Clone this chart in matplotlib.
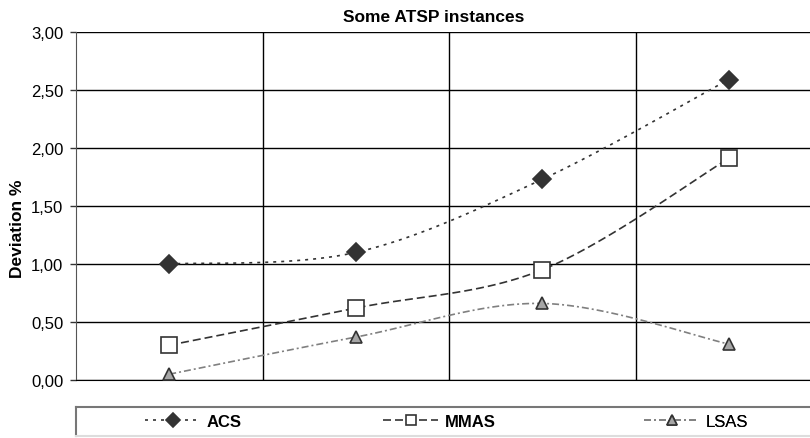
import numpy as np
import matplotlib.pyplot as plt
from matplotlib.lines import Line2D
from matplotlib.ticker import FuncFormatter, MultipleLocator

plt.rcParams['font.family'] = ['Liberation Sans', 'DejaVu Sans']

# data
positions = [0.5, 1.5, 2.5, 3.5]
acs = [1.00, 1.10, 1.73, 2.59]
mmas = [0.30, 0.62, 0.95, 1.91]
lsas = [0.05, 0.37, 0.66, 0.31]
series_names = ['ACS', 'MMAS', 'LSAS']


def smooth(xs, ys, n=40):
    # Excel-like smoothed line: Bezier segments with Catmull-Rom control points
    p = np.column_stack([xs, ys]).astype(float)
    ext = np.vstack([p[0], p, p[-1]])
    t = np.linspace(0, 1, n)[:, None]
    out = []
    for i in range(len(p) - 1):
        p0, p3 = ext[i + 1], ext[i + 2]
        c1 = p0 + (ext[i + 2] - ext[i]) / 6
        c2 = p3 - (ext[i + 3] - ext[i + 1]) / 6
        seg = ((1 - t) ** 3) * p0 + 3 * ((1 - t) ** 2) * t * c1 + 3 * (1 - t) * t ** 2 * c2 + t ** 3 * p3
        out.append(seg if i == 0 else seg[1:])
    out = np.vstack(out)
    return out[:, 0], out[:, 1]


W, H = 810, 439
fig = plt.figure(figsize=(W / 100, H / 100), dpi=100)
ax = fig.add_axes([76 / W, (H - 381) / H, (W - 76) / W, 348 / H])

styles = [
    dict(color='#333333', dashes=(1.8, 3.0), marker='D', ms=9, lms=7, mfc='#333333', mec='#333333'),
    dict(color='#333333', dashes=(4.8, 2.4), marker='s', ms=11, lms=7, mfc='white', mec='#333333'),
    dict(color='#808080', dashes=(4.2, 1.8, 1.2, 1.8), marker='^', ms=9, lms=7, mfc='#a6a6a6', mec='#333333'),
]

handles = []
for ys, st, name in zip([acs, mmas, lsas], styles, series_names):
    sx, sy = smooth(positions, ys)
    ax.plot(sx, sy, color=st['color'], lw=1.2, dashes=st['dashes'], zorder=3, clip_on=False)
    ax.plot(positions, ys, ls='none', marker=st['marker'], ms=st['ms'], mfc=st['mfc'],
            mec=st['mec'], mew=1.2, zorder=4, clip_on=False)
    handles.append(Line2D([], [], color=st['color'], lw=1.2, dashes=st['dashes'],
                          marker=st['marker'], ms=st['lms'], mfc=st['mfc'], mec=st['mec'],
                          mew=1.2, label=name))

ax.set_xlim(0, (W - 76) / 186.5)
ax.set_ylim(0, 3)
ax.yaxis.set_major_locator(MultipleLocator(0.5))
ax.yaxis.set_major_formatter(FuncFormatter(lambda v, p: f'{v:.2f}'.replace('.', ',')))
ax.set_xticks([])
for xv in [1, 2, 3]:
    ax.axvline(xv, color='black', lw=1, zorder=1)
ax.grid(axis='y', color='black', lw=1, zorder=1)
ax.set_axisbelow(True)
ax.tick_params(axis='y', length=4, width=1, labelsize=12, pad=5, color='#333333')
for s in ['right', 'top']:
    ax.spines[s].set_visible(False)
ax.spines['left'].set_color('#555555')
ax.spines['bottom'].set_color('black')
fig.text(18 / W, 1 - 229 / H, 'Deviation %', rotation=90, ha='center', va='center',
         fontsize=12.5, fontweight='bold')
fig.text(434 / W, 1 - 18 / H, 'Some ATSP instances', ha='center', va='center',
         fontsize=12.5, fontweight='bold')

# legend box at the bottom
lax = fig.add_axes([76 / W, 2 / H, 1.0, 29 / H])
lax.set_xticks([])
lax.set_yticks([])
lax.patch.set_alpha(0)
for s in lax.spines.values():
    s.set_color('#777777')
    s.set_linewidth(1.5)
lax.spines['bottom'].set_color('#dddddd')

legend_x = [69, 307, 568]
weights = ['bold', 'bold', 'normal']
for h, lx, wgt in zip(handles, legend_x, weights):
    leg = lax.legend(handles=[h], loc='center left', bbox_to_anchor=(lx / W, 0.5),
                     frameon=False, handlelength=3.3, handletextpad=0.4, borderpad=0,
                     borderaxespad=0, prop={'size': 12, 'weight': wgt})
    lax.add_artist(leg)

fig.savefig('out.png', dpi=100)
